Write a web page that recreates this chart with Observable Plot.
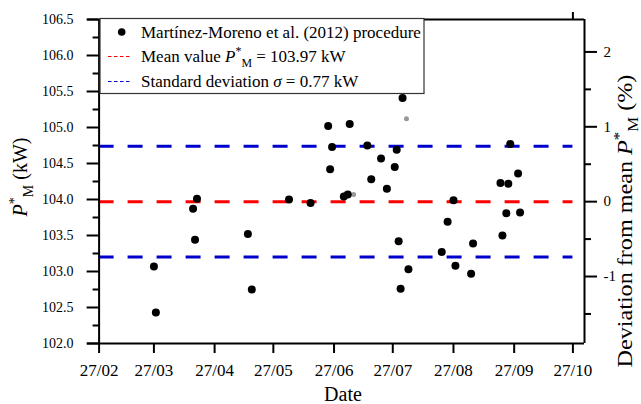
<!DOCTYPE html>
<html><head><meta charset="utf-8">
<script src="https://cdn.jsdelivr.net/npm/d3@7"></script>
<script src="https://cdn.jsdelivr.net/npm/@observablehq/plot@0.6"></script>
<style>body{margin:0;background:#fff;} #chart{width:641px;height:404px;}</style>
</head><body><div id="chart"></div>
<script>
// ---- data ----
const dates = ["2011-03-27","2011-03-28","2011-04-16","2011-04-18","2011-04-17","2011-05-14","2011-05-16",
  "2011-06-04","2011-06-15","2011-06-24","2011-06-26","2011-06-25","2011-07-02","2011-07-04","2011-07-05",
  "2011-07-14","2011-07-16","2011-07-21","2011-07-24","2011-07-28","2011-07-29","2011-07-30","2011-07-31",
  "2011-08-01","2011-08-04","2011-08-21","2011-08-24","2011-08-27","2011-08-28","2011-09-05","2011-09-06",
  "2011-09-20","2011-09-21","2011-09-23","2011-09-24","2011-09-25","2011-09-29","2011-09-30"];
const power = [103.07,102.43,103.87,104.01,103.44,103.52,102.75,
  104.00,103.95,105.02,104.73,104.42,104.04,104.07,105.05,
  104.75,104.28,104.57,104.15,104.45,104.69,103.42,102.76,
  105.41,103.03,103.27,103.69,103.99,103.08,102.97,103.39,
  104.23,103.50,103.81,104.22,104.77,104.36,103.82];
const faintDates = ["2011-08-03","2011-07-07"];
const faintPower = [105.12,104.07];
const meanValue = 103.97;
const sigma = 0.77;
const xTicks = ["2011-02-27","2011-03-27","2011-04-27","2011-05-27","2011-06-27","2011-07-27","2011-08-27","2011-09-27","2011-10-27"];
const yTicks = [102.0,102.5,103.0,103.5,104.0,104.5,105.0,105.5,106.0,106.5];
const yMinor = [102.25,102.75,103.25,103.75,104.25,104.75,105.25,105.75,106.25];
const pctTicks = [-1,0,1,2];
const pctMinor = [-1.5,-0.5,0.5,1.5];
const seriesLabel = "Martínez-Moreno et al. (2012) procedure";

// ---- chart ----
const parse = d3.utcParse("%Y-%m-%d");
const data = dates.map((d,i)=>({date: parse(d), p: power[i]}));
const faint = faintDates.map((d,i)=>({date: parse(d), p: faintPower[i]}));
const xt = xTicks.map(parse);
const DAY = 864e5, pad = 5.92*DAY;
const xDomain = [new Date(+xt[0]-pad), new Date(+xt[xt.length-1]+pad)];
const font = "'Liberation Serif','Times New Roman',serif";
const toKW = p => meanValue*(1+p/100);
const dash = {x1: () => xt[0], x2: () => xt[xt.length-1], strokeWidth: 3, strokeDasharray: "15,14"};

const chart = Plot.plot({
  width: 641, height: 404,
  marginLeft: 87, marginRight: 57, marginTop: 19, marginBottom: 61,
  style: {fontFamily: font, background: "white", color: "black"},
  x: {type: "utc", domain: xDomain, label: null},
  y: {domain: [102, 106.5], label: null},
  marks: [
    Plot.ruleY([meanValue], {...dash, stroke: "#ff0000"}),
    Plot.ruleY([meanValue - sigma, meanValue + sigma], {...dash, stroke: "#0000cc"}),
    Plot.ruleY([102, 106.5], {stroke: "black", strokeWidth: 2}),
    Plot.ruleX([xDomain[1], xt[0]], {stroke: "black", strokeWidth: 2}),
    Plot.axisY({anchor: "left", ticks: yTicks, tickSize: 12, dx: 11.6, tickPadding: 13.5, strokeWidth: 2,
      tickFormat: d => d.toFixed(1), fontSize: 14, label: null}),
    Plot.axisY({anchor: "left", ticks: yMinor, tickSize: 6, dx: 11.6, strokeWidth: 2, tickFormat: () => "", label: null}),
    Plot.axisY({anchor: "right", ticks: pctTicks.map(toKW), tickSize: 12, tickPadding: 7, strokeWidth: 2,
      tickFormat: (d,i) => String(pctTicks[i]), fontSize: 15, label: null}),
    Plot.axisY({anchor: "right", ticks: pctMinor.map(toKW), tickSize: 6, strokeWidth: 2, tickFormat: () => "", label: null}),
    Plot.axisX({anchor: "bottom", ticks: xt, tickSize: 10, tickPadding: 10, strokeWidth: 2,
      tickFormat: d3.utcFormat("%d/%m"), fontSize: 17, label: null}),
    Plot.axisX({anchor: "top", ticks: [xt[xt.length-1]], tickSize: 8, strokeWidth: 2, tickFormat: () => "", label: null}),
    Plot.dot(faint, {x: "date", y: "p", r: 2.5, fill: "#444", fillOpacity: 0.55}),
    Plot.dot(data, {x: "date", y: "p", r: 4, fill: "black"})
  ]
});
document.getElementById("chart").appendChild(chart);

// ---- legend and axis titles ----
const svg = d3.select(chart);
const g = svg.append("g").attr("font-family", font).attr("font-size", 17).attr("fill", "black")
  .attr("text-anchor", "start");
g.append("rect").attr("x", 100).attr("y", 18.5).attr("width", 324).attr("height", 75)
  .attr("fill", "white").attr("stroke", "#333").attr("stroke-width", 1.2);
g.append("circle").attr("cx", 121.7).attr("cy", 32).attr("r", 3.8).attr("fill", "black");
g.append("text").attr("x", 141).attr("y", 37.5).text(seriesLabel);
g.append("line").attr("x1", 108).attr("x2", 132).attr("y1", 56.5).attr("y2", 56.5)
  .attr("stroke", "#ff0000").attr("stroke-width", 1.2).attr("stroke-dasharray", "3.5,2.5");
g.append("line").attr("x1", 108).attr("x2", 132).attr("y1", 81.5).attr("y2", 81.5)
  .attr("stroke", "#0000cc").attr("stroke-width", 1.2).attr("stroke-dasharray", "3.5,2.5");
function pm(t, size) {
  t.append("tspan").attr("font-style", "italic").text("P");
  t.append("tspan").attr("font-size", size*0.7).attr("dy", -size*0.4).text("*");
  t.append("tspan").attr("font-size", size*0.7).attr("dy", size*0.7).text("M");
  return t;
}
const t2 = g.append("text").attr("x", 141).attr("y", 62);
t2.append("tspan").text("Mean value ");
pm(t2, 17);
t2.append("tspan").attr("dy", -17*0.3).text(" = " + meanValue.toFixed(2) + " kW");
const t3 = g.append("text").attr("x", 141).attr("y", 87);
t3.append("tspan").text("Standard deviation ");
t3.append("tspan").attr("font-style", "italic").text("σ");
t3.append("tspan").text(" = " + sigma.toFixed(2) + " kW");

const ty = g.append("text").attr("transform", "translate(27,177) rotate(-90)").attr("text-anchor", "middle").attr("font-size", 20);
pm(ty, 20);
ty.append("tspan").attr("dy", -20*0.3).text(" (kW)");

const tr = g.append("text").attr("transform", "translate(632,221) rotate(-90) scale(1.15,1)").attr("text-anchor", "middle").attr("font-size", 21);
tr.append("tspan").text("Deviation from mean ");
pm(tr, 21);
tr.append("tspan").attr("dy", -21*0.3).text(" (%)");

g.append("text").attr("x", 343).attr("y", 401).attr("text-anchor", "middle").attr("font-size", 20).text("Date");
</script>
</body></html>
